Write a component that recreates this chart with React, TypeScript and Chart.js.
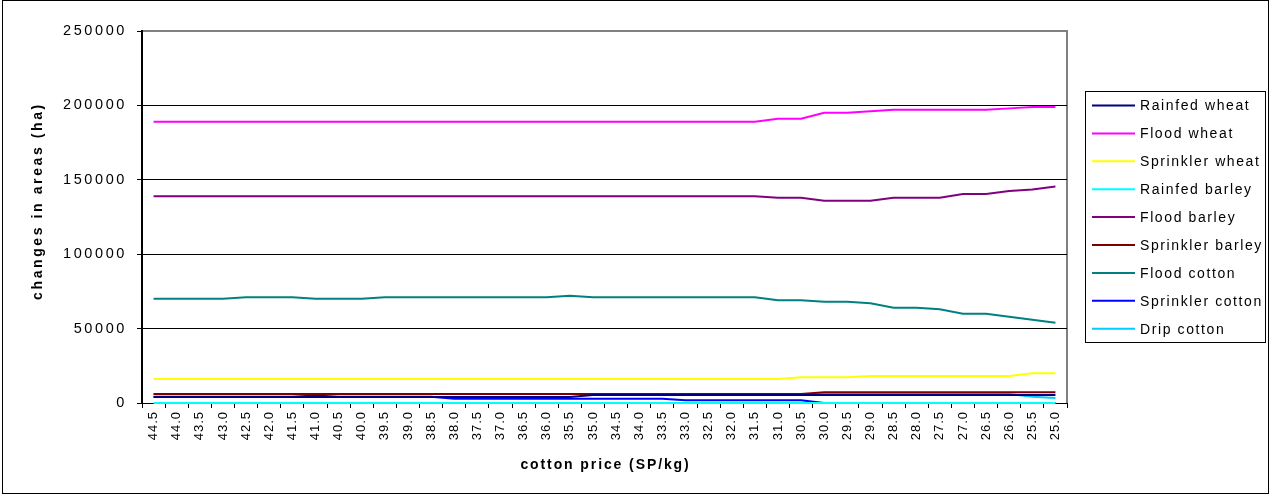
import { useEffect, useRef } from "react";
import { Chart, registerables } from "chart.js";

Chart.register(...registerables);

// Cotton price steps (SP/kg), high to low
const prices = [
  "44.5", "44.0", "43.5", "43.0", "42.5", "42.0", "41.5", "41.0", "40.5", "40.0",
  "39.5", "39.0", "38.5", "38.0", "37.5", "37.0", "36.5", "36.0", "35.5", "35.0",
  "34.5", "34.0", "33.5", "33.0", "32.5", "32.0", "31.5", "31.0", "30.5", "30.0",
  "29.5", "29.0", "28.5", "28.0", "27.5", "27.0", "26.5", "26.0", "25.5", "25.0",
];

// Areas (ha) per crop / irrigation system
const rainfedWheat = [
  4000, 4000, 4000, 4000, 4000, 4000, 4000, 4000, 4000, 4000,
  4000, 4000, 4000, 4000, 4000, 4000, 4000, 4000, 4000, 5300,
  5300, 5300, 5300, 5300, 5300, 5300, 5300, 5300, 5300, 5300,
  5300, 5300, 5300, 5300, 5300, 5300, 5300, 5300, 5300, 5300,
];
const floodWheat = [
  189000, 189000, 189000, 189000, 189000, 189000, 189000, 189000, 189000, 189000,
  189000, 189000, 189000, 189000, 189000, 189000, 189000, 189000, 189000, 189000,
  189000, 189000, 189000, 189000, 189000, 189000, 189000, 191000, 191000, 195000,
  195000, 196000, 197000, 197000, 197000, 197000, 197000, 198000, 199000, 199000,
];
const sprinklerWheat = [
  16100, 16100, 16100, 16100, 16100, 16100, 16100, 16100, 16100, 16100,
  16100, 16100, 16100, 16100, 16100, 16100, 16100, 16100, 16100, 16100,
  16100, 16100, 16100, 16100, 16100, 16100, 16100, 16100, 17300, 17300,
  17300, 18100, 18100, 18100, 18100, 18100, 18100, 18100, 20000, 20000,
];
const rainfedBarley = [
  0, 0, 0, 0, 0, 0, 0, 0, 0, 0,
  0, 0, 0, 0, 0, 0, 0, 0, 0, 0,
  0, 0, 0, 0, 0, 0, 0, 0, 0, 0,
  0, 0, 0, 0, 0, 0, 0, 0, 0, 0,
];
const floodBarley = [
  139000, 139000, 139000, 139000, 139000, 139000, 139000, 139000, 139000, 139000,
  139000, 139000, 139000, 139000, 139000, 139000, 139000, 139000, 139000, 139000,
  139000, 139000, 139000, 139000, 139000, 139000, 139000, 138000, 138000, 136000,
  136000, 136000, 138000, 138000, 138000, 140500, 140500, 142500, 143500, 145500,
];
const sprinklerBarley = [
  6000, 6000, 6000, 6000, 6000, 6000, 6000, 6000, 6000, 6000,
  6000, 6000, 6000, 6000, 6000, 6000, 6000, 6000, 6000, 6000,
  6000, 6000, 6000, 6000, 6000, 6000, 6000, 6000, 6000, 7200,
  7200, 7200, 7200, 7200, 7200, 7200, 7200, 7200, 7200, 7200,
];
const floodCotton = [
  70000, 70000, 70000, 70000, 71000, 71000, 71000, 70000, 70000, 70000,
  71000, 71000, 71000, 71000, 71000, 71000, 71000, 71000, 72000, 71000,
  71000, 71000, 71000, 71000, 71000, 71000, 71000, 69000, 69000, 68000,
  68000, 67000, 64000, 64000, 63000, 60000, 60000, 58000, 56000, 54000,
];
const sprinklerCotton = [
  4200, 4200, 4200, 4200, 4200, 4200, 4200, 5000, 4200, 4200,
  4200, 4200, 4200, 2900, 2900, 2900, 2900, 2900, 2900, 2900,
  2900, 2900, 2900, 1800, 1800, 1800, 1800, 1800, 1800, 0,
  0, 0, 0, 0, 0, 0, 0, 0, 0, 0,
];
const dripCotton = [
  6000, 6000, 6000, 6000, 6000, 6000, 6000, 6000, 6000, 6000,
  6000, 6000, 6000, 6000, 6000, 6000, 6000, 6000, 6000, 6000,
  6000, 6000, 6000, 6000, 6000, 6000, 6000, 6000, 6000, 6000,
  6000, 6000, 6000, 6000, 6000, 6000, 6000, 6000, 4200, 3300,
];

const seriesLabels = [
  "Rainfed wheat", "Flood wheat", "Sprinkler wheat",
  "Rainfed barley", "Flood barley", "Sprinkler barley",
  "Flood cotton", "Sprinkler cotton", "Drip cotton",
];
const seriesColors = [
  "#000080", "#FF00FF", "#FFFF00",
  "#00FFFF", "#800080", "#800000",
  "#008080", "#0000FF", "#00CCFF",
];
const seriesValues = [
  rainfedWheat, floodWheat, sprinklerWheat,
  rainfedBarley, floodBarley, sprinklerBarley,
  floodCotton, sprinklerCotton, dripCotton,
];

const yTicks = [0, 50000, 100000, 150000, 200000, 250000];
const xTitle = "cotton price (SP/kg)";
const yTitle = "changes in areas (ha)";

const FONT = '"Liberation Sans", Arial, sans-serif';

// Tracking on axis text, plot frame, axis titles, boxed legend and outer border
const decorPlugin = {
  id: "decor",
  beforeDraw(chart: any) {
    const { ctx, chartArea: a } = chart;
    ctx.save();
    ctx.strokeStyle = "#808080";
    ctx.lineWidth = 2;
    ctx.beginPath();
    ctx.moveTo(a.left, a.top);
    ctx.lineTo(a.right, a.top);
    ctx.lineTo(a.right, a.bottom);
    ctx.stroke();
    ctx.restore();
    ctx.letterSpacing = "2.6px";
  },
  beforeDatasetsDraw(chart: any) {
    chart.ctx.letterSpacing = "0px";
  },
  afterDatasetsDraw(chart: any) {
    chart.ctx.letterSpacing = "1px";
  },
  afterDraw(chart: any) {
    const { ctx, chartArea: a } = chart;
    ctx.save();
    ctx.letterSpacing = "0px";

    // outer frame
    ctx.strokeStyle = "#000";
    ctx.lineWidth = 1;
    ctx.strokeRect(2.5, 0.5, 1266, 493);

    // axis titles
    ctx.fillStyle = "#000";
    ctx.font = `bold 14px ${FONT}`;
    ctx.textAlign = "center";
    ctx.textBaseline = "middle";
    ctx.letterSpacing = "1.9px";
    ctx.fillText(xTitle, (a.left + a.right) / 2 + 1, 465);
    ctx.save();
    ctx.translate(38, 201);
    ctx.rotate(-Math.PI / 2);
    ctx.letterSpacing = "2.6px";
    ctx.fillText(yTitle, 0, 0);
    ctx.restore();

    // legend
    ctx.letterSpacing = "0px";
    ctx.strokeStyle = "#000";
    ctx.lineWidth = 1;
    ctx.strokeRect(1085.5, 91.5, 180, 251);
    ctx.font = `14px ${FONT}`;
    ctx.textAlign = "left";
    ctx.textBaseline = "middle";
    chart.data.datasets.forEach((ds: any, i: number) => {
      const y = 105.5 + i * 27.9;
      ctx.strokeStyle = ds.borderColor;
      ctx.lineWidth = 2;
      ctx.beginPath();
      ctx.moveTo(1092, y);
      ctx.lineTo(1135, y);
      ctx.stroke();
      ctx.fillStyle = "#000";
      ctx.letterSpacing = "1.6px";
      ctx.fillText(ds.label, 1140, y + 1);
      ctx.letterSpacing = "0px";
    });
    ctx.restore();
  },
};

export default function App() {
  const ref = useRef<HTMLCanvasElement>(null);

  useEffect(() => {
    document.body.style.margin = "0";
    const canvas = ref.current;
    if (!canvas) return;
    const chart = new Chart(canvas, {
      type: "line",
      data: {
        labels: prices,
        datasets: seriesLabels.map((label, i) => ({
          label,
          data: seriesValues[i],
          borderColor: seriesColors[i],
          backgroundColor: seriesColors[i],
          borderWidth: 2,
          pointRadius: 0,
          tension: 0,
          fill: false,
          clip: false as any,
        })),
      },
      options: {
        animation: false,
        responsive: false,
        events: [],
        layout: { padding: { left: 0, right: 204, top: 31, bottom: 0 } },
        plugins: {
          legend: { display: false },
          tooltip: { enabled: false },
          title: { display: false },
        },
        scales: {
          x: {
            type: "category",
            offset: true,
            grid: {
              offset: true,
              drawOnChartArea: false,
              drawTicks: true,
              tickLength: 5,
              tickColor: "#000",
              tickWidth: 1,
            },
            border: { display: true, color: "#000", width: 1 },
            ticks: {
              autoSkip: false,
              minRotation: 90,
              maxRotation: 90,
              padding: 3,
              color: "#000",
              font: { family: FONT, size: 13 },
              z: 1,
            },
            afterFit: (s: any) => {
              s.height = 93;
            },
          },
          y: {
            min: 0,
            max: 250000,
            afterBuildTicks: (s: any) => {
              s.ticks = yTicks.map((v) => ({ value: v }));
            },
            ticks: {
              padding: 10,
              color: "#000",
              font: { family: FONT, size: 14.5 },
              callback: (v: any) => String(v),
            },
            grid: {
              color: (c: any) =>
                c.tick && (c.tick.value === 0 || c.tick.value === 250000)
                  ? "rgba(0,0,0,0)"
                  : "#000",
              lineWidth: 1,
              drawTicks: true,
              tickLength: 5,
              tickColor: "#000",
              tickWidth: 1,
            },
            border: { display: true, color: "#000", width: 2 },
            afterFit: (s: any) => {
              s.width = 142;
            },
          },
        },
      },
      plugins: [decorPlugin],
    });
    return () => chart.destroy();
  }, []);

  return (
    <div
      style={{
        position: "absolute",
        left: 0,
        top: 0,
        width: 1271,
        height: 496,
        background: "#fff",
      }}
    >
      <canvas
        ref={ref}
        width={1271}
        height={496}
        style={{ display: "block", width: "1271px", height: "496px" }}
      />
    </div>
  );
}
